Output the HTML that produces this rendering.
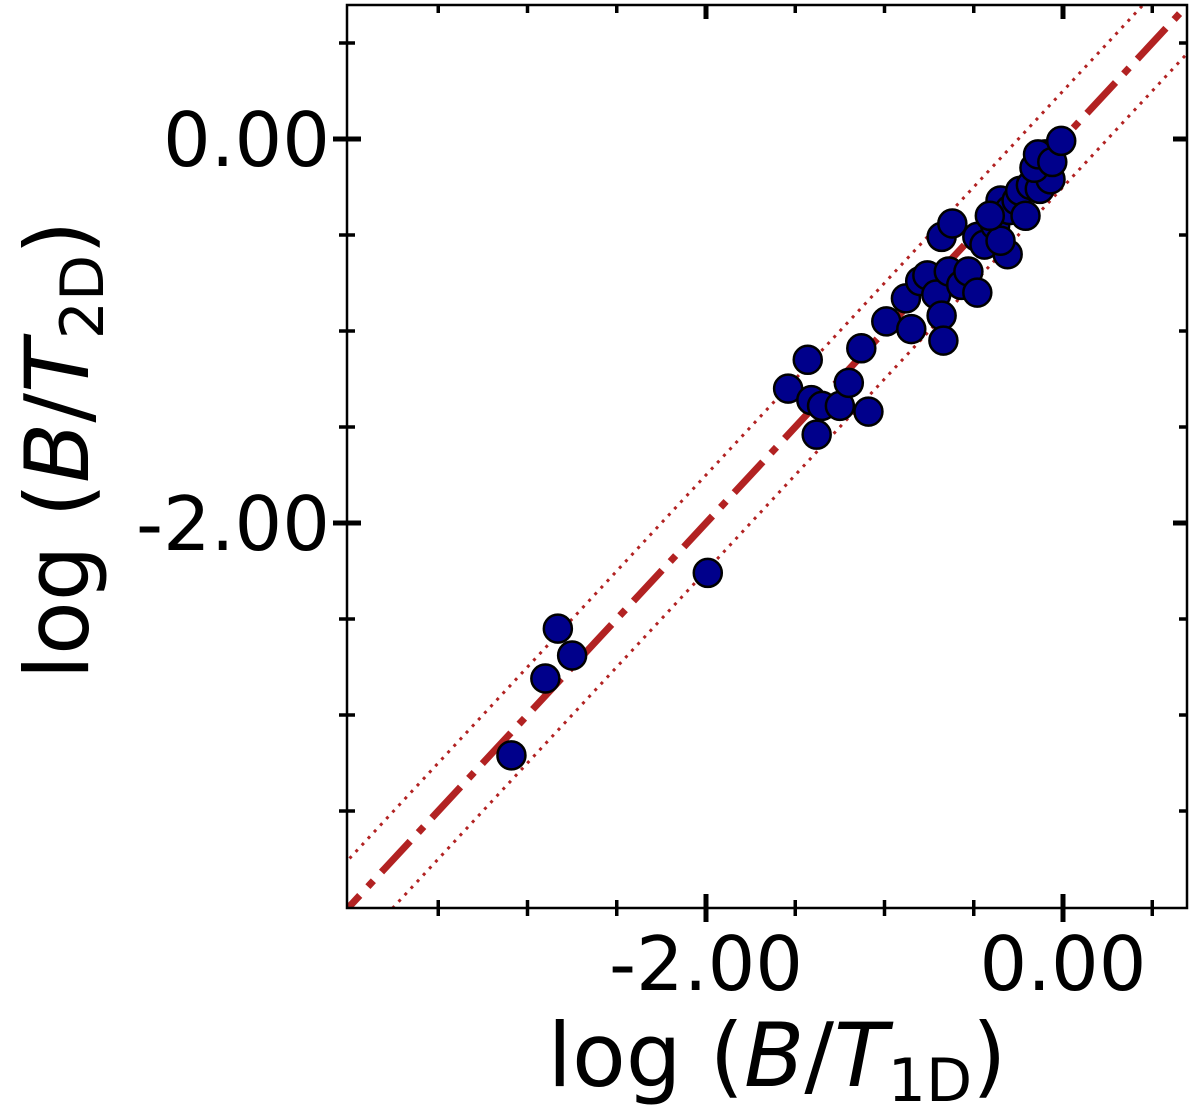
<!DOCTYPE html>
<html><head><meta charset="utf-8"><style>
html,body{margin:0;padding:0;background:#fff;}
svg{display:block;font-family:"DejaVu Sans","Liberation Sans",sans-serif;}
</style></head><body>
<svg id="chart" width="1200" height="1115" viewBox="0 0 1200 1115" xmlns="http://www.w3.org/2000/svg">
<g id="lines"></g>
<g id="points"></g>
<rect x="347" y="5" width="840" height="903" fill="none" stroke="#000" stroke-width="2.5"/>
<g id="ticks"></g>
<text transform="translate(88,450) rotate(-90)" text-anchor="middle" font-size="88">log (<tspan font-style="italic">B</tspan>/<tspan font-style="italic">T</tspan><tspan font-size="60" dy="15">2D</tspan><tspan dy="-15">)</tspan></text>
<text x="777" y="1086" text-anchor="middle" font-size="88">log (<tspan font-style="italic">B</tspan>/<tspan font-style="italic">T</tspan><tspan font-size="60" dy="15">1D</tspan><tspan dy="-15">)</tspan></text>
</svg>
<script>
const xVals=[-3.09,-2.90,-2.83,-2.75,-1.99,-1.54,-1.43,-1.41,-1.38,-1.35,-1.25,-1.20,-1.13,-1.09,-0.99,-0.88,-0.85,-0.80,-0.76,-0.71,-0.68,-0.67,-0.68,-0.62,-0.64,-0.57,-0.53,-0.48,-0.48,-0.44,-0.38,-0.35,-0.31,-0.30,-0.26,-0.24,-0.21,-0.18,-0.13,-0.07,-0.16,-0.10,-0.14,-0.06,-0.01,-0.35,-0.41];
const yVals=[-3.21,-2.81,-2.55,-2.69,-2.26,-1.30,-1.15,-1.36,-1.54,-1.39,-1.39,-1.27,-1.09,-1.42,-0.95,-0.83,-0.99,-0.74,-0.71,-0.81,-0.92,-1.05,-0.51,-0.44,-0.69,-0.76,-0.69,-0.51,-0.80,-0.55,-0.45,-0.32,-0.60,-0.37,-0.32,-0.27,-0.40,-0.24,-0.26,-0.21,-0.15,-0.08,-0.08,-0.12,-0.01,-0.53,-0.40];
const majorTicks=[-2,0];
const minorTicks=[-3.5,-3,-2.5,-1.5,-1,-0.5,0.5];
const tickLabels=["-2.00","0.00"];
const lineOffsets=[0.25,-0.25];
const X0=347,X1=1187,Y0=908,Y1=5;
function sx(v){return 1063+v*178.5;}
function sy(v){return 139-v*192;}
const NS="http://www.w3.org/2000/svg";
function mk(p,tag,attrs){const e=document.createElementNS(NS,tag);for(const k in attrs)e.setAttribute(k,attrs[k]);p.appendChild(e);return e;}
const defs=mk(document.getElementById('chart'),'defs',{});
const cp=mk(defs,'clipPath',{id:'clip'});mk(cp,'rect',{x:X0,y:Y1,width:X1-X0,height:Y0-Y1});
const L=document.getElementById('lines');L.setAttribute('clip-path','url(#clip)');
const a=-4.1,b=0.8;
const main=mk(L,'line',{x1:sx(a),y1:sy(a),x2:sx(b),y2:sy(b),stroke:'#b22222','stroke-width':7,'stroke-dasharray':'42 12 8 12'});


lineOffsets.forEach(o=>{
 const l=mk(L,'line',{x1:sx(a),y1:sy(a+o),x2:sx(b),y2:sy(b+o),stroke:'#b22222','stroke-width':3,'stroke-dasharray':'3 6'});
 
 
});
const P=document.getElementById('points');
xVals.forEach((x,i)=>{
 const c=mk(P,'circle',{cx:sx(x),cy:sy(yVals[i]),r:14,fill:'#00008b',stroke:'#000','stroke-width':2.5});
 
 
});
const T=document.getElementById('ticks');
function tick(x1,y1,x2,y2,w){mk(T,'line',{x1,y1,x2,y2,stroke:'#000','stroke-width':w});}
majorTicks.forEach((v,i)=>{
 const x=sx(v),y=sy(v);
 tick(x,Y0-14,x,Y0+14,5);tick(x,Y1,x,Y1+14,5);
 tick(X0-14,y,X0+14,y,5);tick(X1-14,y,X1,y,5);
 const tx=mk(T,'text',{x:x,y:990,'text-anchor':'middle','font-size':75});tx.textContent=tickLabels[i];
 
 
 const ty=mk(T,'text',{x:330,y:y+27,'text-anchor':'end','font-size':75});ty.textContent=tickLabels[i];
 
 
});
minorTicks.forEach(v=>{
 const x=sx(v),y=sy(v);
 if(x>X0&&x<X1){tick(x,Y0-8,x,Y0+8,3.5);tick(x,Y1,x,Y1+8,3.5);}
 if(y>Y1&&y<Y0){tick(X0-8,y,X0+8,y,3.5);tick(X1-8,y,X1,y,3.5);}
});
</script>
</body></html>
